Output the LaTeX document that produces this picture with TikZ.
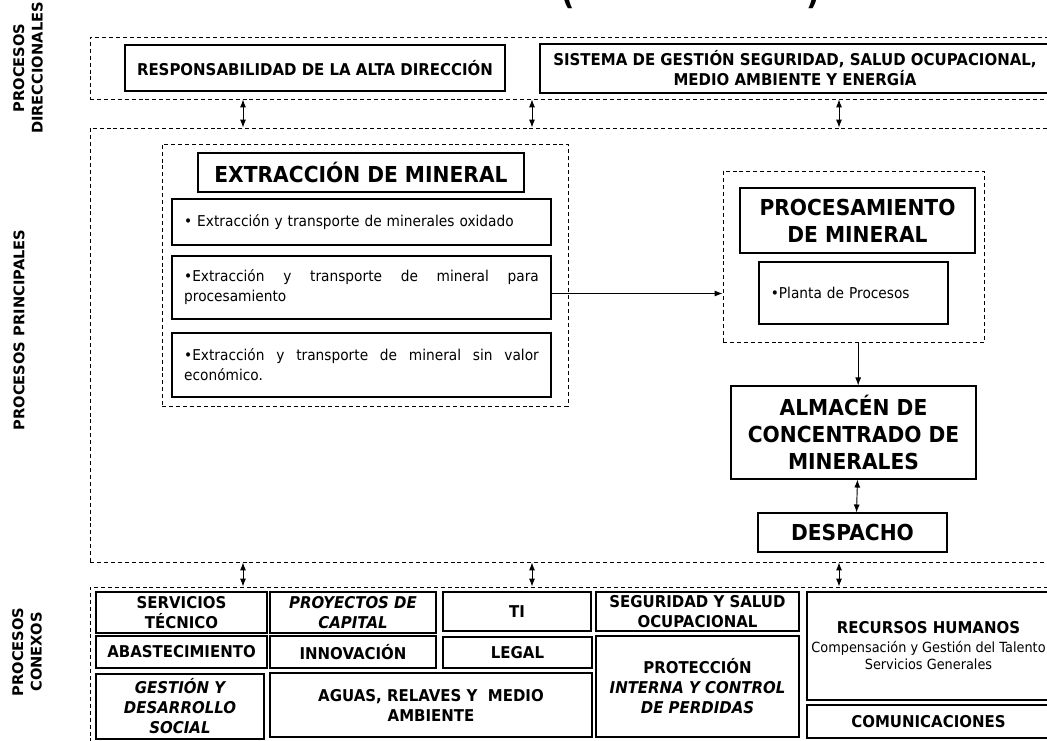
\documentclass[tikz,border=0pt]{standalone}
\usepackage{fontspec}
\setmainfont[FakeStretch=0.92]{DejaVu Sans}
\newfontfamily\rotulofont{DejaVu Sans}
\usetikzlibrary{arrows.meta}

\tikzset{
  sitio/.style args={#1/#2/#3/#4}{minimum width={(#3-#1)*0.75pt}, minimum height={(#4-#2)*0.75pt},
    at={({(#1+#3)/2},{(#2+#4)/2})}},
  zona/.style={draw, dash pattern=on 3pt off 2.2pt, line width=0.6pt, inner sep=0pt},
  caja/.style={draw, line width=0.8pt, inner sep=0pt, align=center,
    font=\bfseries\fontsize{12.2}{15}\selectfont},
  titulo/.style={caja, font=\bfseries\fontsize{16.5}{20.5}\selectfont},
  texto/.style={caja, font=\fontsize{11.2}{15}\selectfont,
    execute at begin node={\hyphenpenalty=10000\exhyphenpenalty=10000\hbadness=10000}},
  flecha/.style={-{Latex[length=6pt,width=4.5pt]}, line width=0.7pt},
  flechas/.style={{Latex[length=6pt,width=4.5pt]}-{Latex[length=6pt,width=4.5pt]}, line width=0.7pt},
  rotulo/.style={rotate=90, align=center, font=\rotulofont\bfseries\fontsize{11}{14}\selectfont},
}

\begin{document}
\begin{tikzpicture}[x=0.75pt,y=-0.75pt]
  \useasboundingbox (0,0) rectangle (1047,740);
  % titulo cortado
  \node[font=\bfseries\fontsize{24}{24}\selectfont, anchor=base] (pizq) at (568,4) {(};
  \node[font=\bfseries\fontsize{24}{24}\selectfont, anchor=base] (pder) at (813,4) {)};

  % zonas
  \node[zona, sitio={90/37/1055/99}] (dir) {};
  \node[zona, sitio={90/128/1055/562}] (prin) {};
  \node[zona, sitio={90/587/1055/745}] (con) {};
  \node[rotulo] (rdir) at (28,68) {PROCESOS\\DIRECCIONALES};
  \node[rotulo] (rprin) at (19,330) {PROCESOS PRINCIPALES};
  \node[rotulo] (rcon) at (27,652) {PROCESOS\\CONEXOS};

  % procesos direccionales
  \node[caja, sitio={125/45/505/91}] (resp) {RESPONSABILIDAD DE LA ALTA DIRECCIÓN};
  \node[caja, sitio={540/44/1050/93}] (sist) {SISTEMA DE GESTIÓN SEGURIDAD, SALUD OCUPACIONAL,\\MEDIO AMBIENTE Y ENERGÍA};

  % flechas entre zonas
  \foreach \x [count=\i] in {243,532,839}{
    \coordinate (c\i) at (\x,0);
    \draw[flechas] (dir.south -| c\i) -- (prin.north -| c\i);
    \draw[flechas] (prin.south -| c\i) -- (con.north -| c\i);
  }

  % extraccion
  \node[zona, sitio={162/144/568/406}] (ext) {};
  \node[titulo, sitio={198/153/524/192}] (tit) {EXTRACCIÓN DE MINERAL};
  \node[texto, sitio={172/199/551/245}, text width=266pt, align=left] (b1) {• Extracción y transporte de minerales oxidado};
  \node[texto, sitio={172/256/551/319}, text width=266pt, align=justify] (b2) {•Extracción y transporte de mineral para procesamiento};
  \node[texto, sitio={172/333/551/397}, text width=266pt, align=justify] (b3) {•Extracción y transporte de mineral sin valor económico.};

  % procesamiento
  \node[zona, sitio={723/171/984/342}] (proc) {};
  \node[titulo, sitio={740/188/975/253}] (ptit) {PROCESAMIENTO\\DE MINERAL};
  \node[texto, sitio={759/262/948/324}, text width=124pt, align=left] (planta) {•Planta de Procesos};
  \node[titulo, sitio={731/386/976/479}] (alm) {ALMACÉN DE\\CONCENTRADO DE\\MINERALES};
  \node[titulo, sitio={758/513/947/552}] (desp) {DESPACHO};

  \draw[flecha] ([yshift=-4.5pt]b2.east) -- ([yshift=-4.5pt]b2.east -| proc.west);
  \draw[flecha] ([xshift=3.5pt]proc.south) -- ([xshift=3.5pt]alm.north);
  \draw[flechas] ([xshift=3pt]alm.south) -- ([xshift=3pt]desp.north);

  % procesos conexos
  \node[caja, sitio={96/592/267/633}] (serv) {SERVICIOS\\TÉCNICO};
  \node[caja, sitio={270/592/436/633}] (proy) {\itshape PROYECTOS DE\\\itshape CAPITAL};
  \node[caja, sitio={443/592/591/631}] (ti) {TI};
  \node[caja, sitio={596/592/799/631}] (seg) {SEGURIDAD Y SALUD\\OCUPACIONAL};
  \node[caja, sitio={807/592/1050/700}] (rrhh) {RECURSOS HUMANOS\\[-1pt]
    {\mdseries\fontsize{10.5}{12.5}\selectfont Compensación y Gestión del Talento}\\[-2pt]
    {\mdseries\fontsize{10.5}{12.5}\selectfont Servicios Generales}};
  \node[caja, sitio={96/636/267/668}] (abas) {ABASTECIMIENTO};
  \node[caja, sitio={270/636/436/668}] (inno) {INNOVACIÓN};
  \node[caja, sitio={443/637/592/668}] (legal) {LEGAL};
  \node[caja, sitio={596/636/799/737}] (prot) {PROTECCIÓN\\\itshape INTERNA Y CONTROL\\\itshape DE PERDIDAS};
  \node[caja, sitio={96/674/264/739}] (gest) {\itshape GESTIÓN Y\\\itshape DESARROLLO\\\itshape SOCIAL};
  \node[caja, sitio={270/673/592/737}] (aguas) {AGUAS, RELAVES Y\ \ MEDIO\\AMBIENTE};
  \node[caja, sitio={807/705/1050/738}] (com) {COMUNICACIONES};
\end{tikzpicture}
\end{document}
